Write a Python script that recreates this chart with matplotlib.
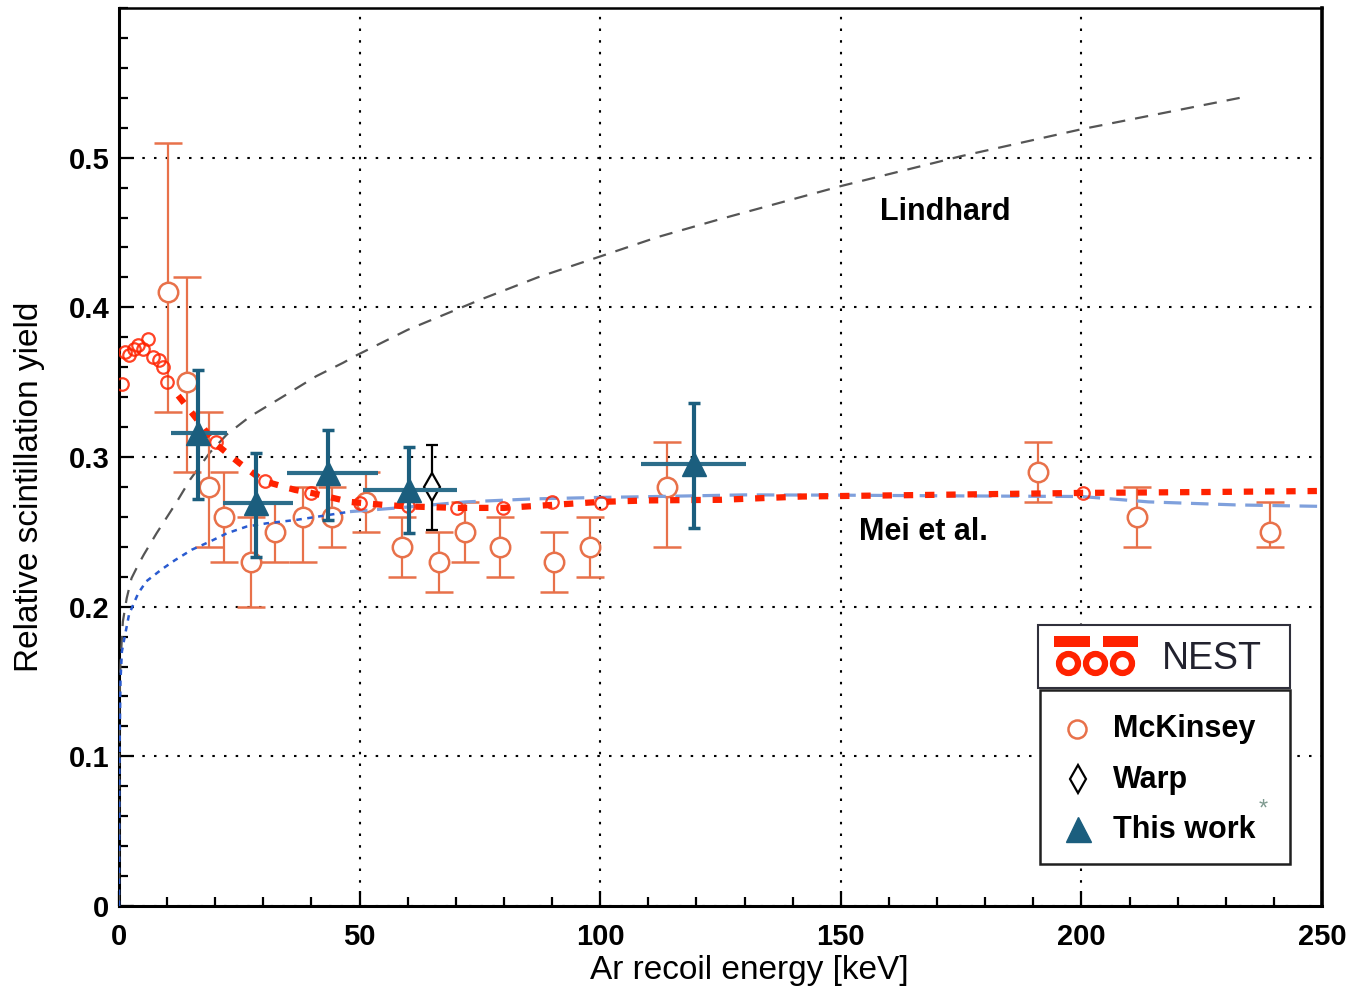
import numpy as np
import matplotlib
matplotlib.use("Agg")
import matplotlib.pyplot as plt
from matplotlib.lines import Line2D
from matplotlib.patches import Rectangle, Ellipse

plt.rcParams['font.family'] = ['Liberation Sans', 'DejaVu Sans']

# ---------------- data ----------------
# McKinsey (open orange circles, asymmetric y errors)
mck_E = [10.2, 14.1, 18.7, 21.8, 27.4, 32.4, 38.2, 44.3, 51.4, 58.8, 66.5, 72.0, 79.2, 90.4, 97.9, 113.9, 191.0, 211.6, 239.1]
mck_Y = [0.41, 0.35, 0.28, 0.26, 0.23, 0.25, 0.26, 0.26, 0.27, 0.24, 0.23, 0.25, 0.24, 0.23, 0.24, 0.28, 0.29, 0.26, 0.25]
mck_lo = [0.33, 0.29, 0.24, 0.23, 0.20, 0.23, 0.23, 0.24, 0.25, 0.22, 0.21, 0.23, 0.22, 0.21, 0.22, 0.24, 0.27, 0.24, 0.24]
mck_hi = [0.51, 0.42, 0.33, 0.29, 0.26, 0.27, 0.28, 0.28, 0.29, 0.26, 0.25, 0.27, 0.26, 0.25, 0.26, 0.31, 0.31, 0.28, 0.27]

# This work (filled triangles)
tw_E = [16.5, 28.5, 43.5, 60.2, 119.4]
tw_Y = [0.316, 0.269, 0.289, 0.278, 0.295]
tw_ylo = [0.272, 0.2335, 0.258, 0.249, 0.2524]
tw_yhi = [0.358, 0.3025, 0.318, 0.307, 0.336]
tw_xlo = [10.9, 21.7, 34.9, 50.7, 108.4]
tw_xhi = [22.4, 36.1, 53.8, 70.2, 130.4]

# Warp (open diamond)
warp_E = [65.1]
warp_Y = [0.280]
warp_lo = [0.251]
warp_hi = [0.308]

# small red open circles
red_E = [0.7, 1.3, 2.1, 3.1, 4.0, 5.0, 6.1, 7.0, 8.4, 9.2, 10.0, 20.2, 30.3, 40.0, 50.0, 60.0, 70.2, 79.9, 90.0, 100.1, 200.3]
red_Y = [0.349, 0.370, 0.368, 0.372, 0.375, 0.372, 0.379, 0.367, 0.365, 0.360, 0.350, 0.310, 0.284, 0.276, 0.269, 0.267, 0.266, 0.266, 0.270, 0.269, 0.276]

# NEST curve (thick red dotted)
nest_E = [12.3, 16, 20, 25, 30, 36.6, 40, 48, 55, 60, 70, 80, 90, 100, 110, 125, 142, 169, 200, 226, 250]
nest_Y = [0.341, 0.326, 0.309, 0.296, 0.284, 0.278, 0.276, 0.270, 0.268, 0.267, 0.266, 0.266, 0.268, 0.270, 0.271, 0.2714, 0.2736, 0.2747, 0.276, 0.2766, 0.2773]

# Mei et al. curve
mei_E = [0, 0.1, 0.3, 0.6, 1.25, 2.1, 4, 5.7, 8.9, 11.6, 15.1, 18.9, 22.4, 26.5, 30.7, 36.9, 41, 48,
         58, 72, 86, 100, 110, 130, 150, 175, 200, 214, 232, 250]
mei_Y = [0, 0.10, 0.15, 0.17, 0.181, 0.195, 0.209, 0.217, 0.225, 0.231, 0.238, 0.2435, 0.249, 0.2535, 0.2557, 0.258, 0.260, 0.2635,
         0.266, 0.270, 0.272, 0.273, 0.2735, 0.2747, 0.2745, 0.274, 0.2736, 0.270, 0.268, 0.267]

# Lindhard curve
lin_E = [0, 0.05, 0.3, 0.8, 1.6, 2.6, 4, 5.2, 7.8, 10, 12, 14.8, 18.9, 22.4, 27.2, 34.1, 41, 46.6, 49.4, 60, 75, 87, 100, 112,
         125, 150, 175, 200, 233]
lin_Y = [0, 0.128, 0.162, 0.19, 0.2056, 0.219, 0.228, 0.235, 0.249, 0.260, 0.270, 0.285, 0.303, 0.315, 0.327, 0.3404, 0.354, 0.363,
         0.368, 0.385, 0.405, 0.420, 0.434, 0.447, 0.459, 0.481, 0.501, 0.519, 0.540]

x_major = [0, 50, 100, 150, 200, 250]
y_major = [0, 0.1, 0.2, 0.3, 0.4, 0.5]
y_labels = ['0', '0.1', '0.2', '0.3', '0.4', '0.5']

# ---------------- colours ----------------
c_mck = '#E8714A'
c_tw = '#1B5E7E'
c_red = '#FF2200'
c_blue_l = '#7FA0DC'
c_blue_d = '#2A5BD0'
c_gray = '#555555'

W, H = 1351, 990
fig = plt.figure(figsize=(W / 100, H / 100), dpi=100)
ax = fig.add_axes([119 / W, 1 - 906 / H, (1322 - 119) / W, (906 - 8) / H])
ax.set_xlim(0, 250)
ax.set_ylim(0, 0.6)

# grid
ax.set_xticks(x_major)
ax.set_yticks(y_major)
ax.set_yticklabels(y_labels)
ax.set_xticks(np.arange(0, 251, 10), minor=True)
ax.set_yticks(np.arange(0, 0.601, 0.02), minor=True)
ax.grid(True, which='major', color='black', linestyle=(0, (1.2, 4.4)), linewidth=1.5, zorder=0)
ax.set_axisbelow(True)

ax.tick_params(which='both', direction='in', top=False, right=False, width=1.6, color='black')
ax.tick_params(which='major', length=11, labelsize=21, pad=12)
ax.tick_params(axis='y', which='major', pad=7)
ax.tick_params(which='minor', length=6.5)
for lab in ax.get_xticklabels() + ax.get_yticklabels():
    lab.set_fontweight('bold')

for s in ['left', 'bottom']:
    ax.spines[s].set_linewidth(2.2)
ax.spines['top'].set_linewidth(1.8)
ax.spines['right'].set_linewidth(2.6)

# curves
ax.plot(lin_E, lin_Y, color=c_gray, lw=1.6, linestyle=(0, (6, 4.5)), zorder=3)

mei_E_a = np.array(mei_E)
mei_Y_a = np.array(mei_Y)
lowm = mei_E_a <= 48
highm = mei_E_a >= 48
ax.plot(mei_E_a[lowm], mei_Y_a[lowm], color=c_blue_d, lw=1.8, linestyle=(0, (2.2, 2.2)), zorder=4)
ax.plot(mei_E_a[highm], mei_Y_a[highm], color=c_blue_l, lw=2.3, linestyle=(0, (5.5, 3.0)), zorder=4)

# McKinsey
mck_Y_a = np.array(mck_Y)
yerr_m = [mck_Y_a - np.array(mck_lo), np.array(mck_hi) - mck_Y_a]
ax.errorbar(mck_E, mck_Y, yerr=yerr_m, fmt='o', ms=14, mfc='white', mec=c_mck, mew=1.8,
            ecolor=c_mck, elinewidth=1.6, capsize=10, capthick=1.6, zorder=3)

# NEST curve
ax.plot(nest_E, nest_Y, color=c_red, lw=4.5, linestyle=(0, (1.5, 1.9)), zorder=5)

# small red circles
ax.plot(red_E, red_Y, 'o', ms=9, mfc='none', mec=c_red, mew=1.6, zorder=5, alpha=0.85)

# Warp
warp_Y_a = np.array(warp_Y)
ax.errorbar(warp_E, warp_Y, yerr=[warp_Y_a - np.array(warp_lo), np.array(warp_hi) - warp_Y_a],
            fmt='d', ms=14, mfc='white', mec='black', mew=1.6, ecolor='black', elinewidth=1.6,
            capsize=4.5, capthick=1.6, zorder=6)

# This work
tw_E_a = np.array(tw_E)
tw_Y_a = np.array(tw_Y)
ax.errorbar(tw_E, tw_Y, xerr=[tw_E_a - np.array(tw_xlo), np.array(tw_xhi) - tw_E_a], fmt='none',
            ecolor='#2C6D8A', elinewidth=3.0, capsize=0, zorder=7)
ax.errorbar(tw_E, tw_Y, yerr=[tw_Y_a - np.array(tw_ylo), np.array(tw_yhi) - tw_Y_a], fmt='^',
            ms=17, color=c_tw, mec=c_tw, ecolor=c_tw, elinewidth=3.0, capsize=4.5, capthick=2.5, zorder=8)

# labels
ax.text(171.7, 0.464, 'Lindhard', fontsize=22, fontweight='bold', ha='center', va='center', zorder=9)
ax.text(167.1, 0.250, 'Mei et al.', fontsize=22, fontweight='bold', ha='center', va='center', zorder=9)

ax.set_xlabel('Ar recoil energy [keV]', fontsize=24)
ax.set_ylabel('Relative scintillation yield', fontsize=24)
ax.xaxis.set_label_coords((749 - 119) / 1203, (906 - 970) / 898)
ax.xaxis.label.set_va('center')
ax.yaxis.set_label_coords((30 - 119) / 1203, (906 - 487) / 898)
ax.yaxis.label.set_va('center')
ax.yaxis.label.set_ha('center')


# ---------------- legend (drawn in figure pixel coordinates) ----------------
def fx(x):
    return x / W


def fy(y):
    return 1 - y / H


def rect(x0, y0, x1, y1, **kw):
    fig.add_artist(Rectangle((fx(x0), fy(y1)), fx(x1) - fx(x0), fy(y0) - fy(y1),
                             transform=fig.transFigure, **kw))


rect(1038, 625, 1290, 688, fill=True, facecolor='white', edgecolor='#30303C', lw=1.5, zorder=20)
rect(1040, 690, 1290, 864, fill=True, facecolor='white', edgecolor='#202020', lw=1.8, zorder=20)

# NEST logo
rect(1054, 636, 1090, 646.5, facecolor=c_red, edgecolor='none', zorder=21)
rect(1103, 636, 1138, 646.5, facecolor=c_red, edgecolor='none', zorder=21)
for cx in [1068.5, 1095.5, 1122.5]:
    r = 9.5
    fig.add_artist(Ellipse((fx(cx), fy(663.5)), 2 * r / W, 2 * r / H, transform=fig.transFigure,
                           fill=False, edgecolor=c_red, lw=4.5, zorder=21))
fig.text(fx(1162), fy(659), 'NEST', fontsize=27, color='#22222E', ha='left', va='center', zorder=22)

fig.add_artist(Line2D([fx(1077)], [fy(728.5)], marker='o', ms=13, mfc='white', mec=c_mck, mew=1.8,
                      transform=fig.transFigure, zorder=22))
fig.add_artist(Line2D([fx(1078)], [fy(779)], marker='d', ms=14, mfc='white', mec='black', mew=1.6,
                      transform=fig.transFigure, zorder=22))
fig.add_artist(Line2D([fx(1077.5)], [fy(829)], marker='^', ms=18, mfc=c_tw, mec=c_tw,
                      transform=fig.transFigure, zorder=22))
for txt, yy in [('McKinsey', 728.5), ('Warp', 780), ('This work', 830)]:
    fig.text(fx(1113), fy(yy), txt, fontsize=22, fontweight='bold', ha='left', va='center', zorder=22)
fig.text(fx(1263), fy(810), '*', fontsize=17, color='#7F9A90', ha='center', va='center', zorder=22)

fig.savefig('out.png', dpi=100)
